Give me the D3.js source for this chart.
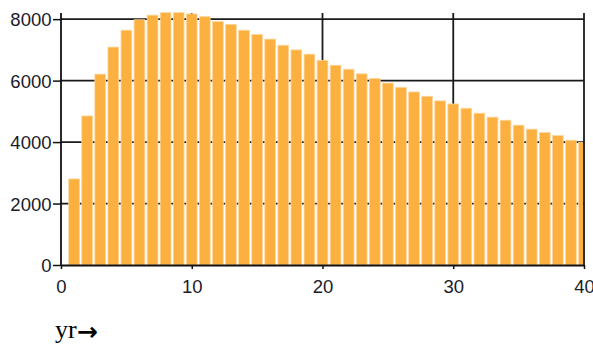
<!DOCTYPE html>
<html><head><meta charset="utf-8">
<script src="https://cdn.jsdelivr.net/npm/d3@7"></script>
<style>body{margin:0;background:#fff}svg{display:block}</style>
</head><body>
<script>
const years = d3.range(1, 41);
const values = [2800, 4850, 6210, 7090, 7640, 7980, 8130, 8210, 8210, 8170,
  8080, 7920, 7830, 7640, 7500, 7350, 7150, 7000, 6860, 6660,
  6500, 6370, 6220, 6070, 5920, 5780, 5630, 5490, 5340, 5240,
  5100, 4940, 4810, 4710, 4550, 4420, 4310, 4210, 4060, 3990];
const yTicks = [0, 2000, 4000, 6000, 8000];
const xTicks = [0, 10, 20, 30, 40];
const xLabel = "yr";

(function () {
const W = 593, H = 347;
const svg = d3.select("body").append("svg").attr("width", W).attr("height", H);
const x = d3.scaleLinear().domain([0, 40]).range([61, 584]);
const y = d3.scaleLinear().domain([0, 8200]).range([265, 13]);
const pTop = y(8200), pBottom = y(0), pLeft = x(0), pRight = x(40);

// grid lines (behind bars)
const g = svg.append("g");
g.selectAll(".hg").data(yTicks.filter(d => d > 0)).join("line")
  .attr("x1", pLeft).attr("x2", pRight).attr("y1", d => y(d)).attr("y2", d => y(d))
  .attr("stroke", "#1a1a1a").attr("stroke-width", 1.8);
g.selectAll(".vg").data(xTicks.filter(d => d > 0)).join("line")
  .attr("x1", d => x(d)).attr("x2", d => x(d)).attr("y1", pTop).attr("y2", pBottom)
  .attr("stroke", "#1a1a1a").attr("stroke-width", 1.8);

svg.append("clipPath").attr("id", "clip").append("rect")
  .attr("x", pLeft).attr("y", 0).attr("width", pRight - pLeft - 1).attr("height", pBottom);

const step = x(1) - x(0);
const bw = step * 0.82;
svg.append("g").attr("clip-path", "url(#clip)")
  .selectAll("rect").data(values).join("rect")
  .attr("x", (d, i) => x(years[i]) - bw / 2)
  .attr("width", bw)
  .attr("y", d => y(d))
  .attr("height", d => pBottom - y(d))
  .attr("fill", "#FBB040")
  .attr("stroke", "#FDD59A").attr("stroke-width", 0.8);

// axes
const yAxis = d3.axisLeft(y).tickValues(yTicks).tickFormat(d3.format("d"))
  .tickSize(8).tickSizeOuter(0).tickPadding(1.5);
const ya = svg.append("g").attr("transform", `translate(${pLeft},0)`).call(yAxis);
const xAxis = d3.axisBottom(x).tickValues(xTicks).tickFormat(d3.format("d"))
  .tickSize(4).tickSizeOuter(0).tickPadding(11);
const xa = svg.append("g").attr("transform", `translate(0,${pBottom})`).call(xAxis);
[ya, xa].forEach(a => {
  a.select(".domain").attr("stroke", "#111").attr("stroke-width", 1.8);
  a.selectAll(".tick line").attr("stroke", "#111").attr("stroke-width", 1.5);
  a.selectAll("text").attr("font-family", "Liberation Sans, Arial, sans-serif")
    .attr("font-size", 18.5).attr("fill", "#1b1b2b");
});
ya.selectAll("text").attr("dy", "0.36em");
ya.select(".domain").attr("d", `M0,${pTop}V${pBottom}`);

// x label
const t = svg.append("text").attr("x", 55).attr("y", 338)
  .attr("font-family", "Liberation Serif, Times New Roman, serif")
  .attr("font-size", 26).attr("fill", "#000");
t.append("tspan").text(xLabel);
t.append("tspan").attr("font-family", "DejaVu Sans, sans-serif").attr("font-weight", "bold")
  .attr("font-size", 25).attr("dy", 2).text("→");
})();
</script>
</body></html>
